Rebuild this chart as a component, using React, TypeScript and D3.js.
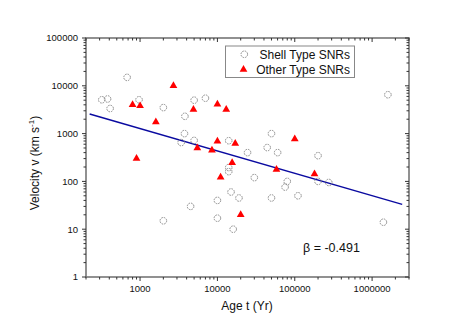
import React from "react";
import * as d3 from "d3";

const shellAge = [320, 380, 410, 680, 970, 2000, 3800, 5000, 7000, 3750, 3400, 5000, 14000, 14000, 14000, 24500, 44000, 50000, 60000, 30000, 80000, 75000, 200000, 200000, 275000, 110000, 15000, 19000, 10000, 50000, 4500, 10000, 2000, 16000, 1400000, 1600000];
const shellVel = [5100, 5300, 3350, 15000, 5100, 3500, 2300, 5000, 5500, 1000, 650, 720, 710, 195, 160, 400, 510, 1000, 400, 120, 100, 76, 345, 100, 95, 50, 60, 45, 40, 45, 30, 17, 15, 10, 14, 6500];

const otherAge = [2700, 800, 1000, 1600, 4900, 10000, 13000, 900, 5500, 10000, 17000, 8500, 100000, 15500, 11000, 58000, 180000, 20000];
const otherVel = [10000, 4000, 3800, 1750, 3200, 4100, 3200, 300, 500, 690, 620, 450, 770, 245, 122, 177, 143, 20];

const fitAge = [223, 2450000];
const fitVel = [2570, 33];

const xTickValues = [1000, 10000, 100000, 1000000];
const yTickValues = [1, 10, 100, 1000, 10000, 100000];

const W = 476;
const H = 332;
const L = 86, R = 409, T = 38, B = 277;

export default function App() {
  const x = d3.scaleLog().domain([200, 3e6]).range([L, R]);
  const y = d3.scaleLog().domain([1, 100000]).range([B, T]);

  const xMinor: number[] = [];
  for (let e = 2; e <= 6; e++) {
    for (let m = 2; m <= 9; m++) {
      const v = m * Math.pow(10, e);
      if (v >= 200 && v <= 3e6) xMinor.push(v);
    }
  }
  const yMinor: number[] = [];
  for (let e = 0; e <= 4; e++) {
    for (let m = 2; m <= 9; m++) yMinor.push(m * Math.pow(10, e));
  }

  const tri = d3.symbol().type(d3.symbolTriangle).size(26)();
  const line = d3
    .line<number>()
    .x((_, i) => x(fitAge[i]))
    .y((d) => y(d));

  const font = "Liberation Sans, Arial, sans-serif";
  const axisCol = "#767676";
  const tickCol = "#333";

  return (
    <svg width={W} height={H} style={{ position: "absolute", left: 0, top: 0, background: "#fff" }} fontFamily={font}>
      {/* frame */}
      <rect x={L} y={T} width={R - L} height={B - T} fill="none" stroke={axisCol} strokeWidth={1.6} />

      {/* x ticks bottom (out) and top (in) */}
      {xTickValues.map((v) => (
        <g key={"xt" + v}>
          <line x1={x(v)} x2={x(v)} y1={B} y2={B + 4} stroke={tickCol} strokeWidth={1} />
          <line x1={x(v)} x2={x(v)} y1={T} y2={T + 4} stroke={tickCol} strokeWidth={1} />
          <text x={x(v)} y={291.5} fontSize={9.5} textAnchor="middle" fill="#111">
            {v}
          </text>
        </g>
      ))}
      {xMinor.map((v) => (
        <g key={"xm" + v}>
          <line x1={x(v)} x2={x(v)} y1={B} y2={B + 2.5} stroke={tickCol} strokeWidth={1} />
          <line x1={x(v)} x2={x(v)} y1={T} y2={T + 2.5} stroke={tickCol} strokeWidth={1} />
        </g>
      ))}

      {/* y ticks left (out) and right (in) */}
      {yTickValues.map((v) => (
        <g key={"yt" + v}>
          <line x1={L - 4} x2={L} y1={y(v)} y2={y(v)} stroke={tickCol} strokeWidth={1} />
          <line x1={R - 4} x2={R} y1={y(v)} y2={y(v)} stroke={tickCol} strokeWidth={1} />
          <text x={78} y={y(v)} dy="0.35em" fontSize={9.5} textAnchor="end" fill="#111">
            {v}
          </text>
        </g>
      ))}
      {yMinor.map((v) => (
        <g key={"ym" + v}>
          <line x1={L - 2.5} x2={L} y1={y(v)} y2={y(v)} stroke={tickCol} strokeWidth={1} />
          <line x1={R - 2.5} x2={R} y1={y(v)} y2={y(v)} stroke={tickCol} strokeWidth={1} />
        </g>
      ))}

      {/* fit line */}
      <path d={line(fitVel) || ""} fill="none" stroke="#0a0aa0" strokeWidth={1.4} />

      {/* shell circles */}
      {shellAge.map((a, i) => (
        <circle
          key={"s" + i}
          cx={x(a)}
          cy={y(shellVel[i])}
          r={3.3}
          fill="none"
          stroke="#808080"
          strokeWidth={0.9}
          strokeDasharray="1.6,1"
        />
      ))}

      {/* other triangles */}
      {otherAge.map((a, i) => (
        <path key={"o" + i} d={tri || ""} transform={`translate(${x(a)},${y(otherVel[i])})`} fill="#ff0000" />
      ))}

      {/* legend */}
      <rect x={225.5} y={46} width={129} height={31.5} fill="#fff" stroke="#888" strokeWidth={1} />
      <circle cx={244.3} cy={54.3} r={3.3} fill="none" stroke="#808080" strokeWidth={0.9} strokeDasharray="1.6,1" />
      <path d={tri || ""} transform="translate(243.5,69.5)" fill="#ff0000" />
      <text x={350} y={58.5} fontSize={12} textAnchor="end" fill="#111">
        Shell Type SNRs
      </text>
      <text x={350} y={74} fontSize={12} textAnchor="end" fill="#111">
        Other Type SNRs
      </text>

      {/* beta */}
      <text x={303} y={252} fontSize={12.5} fill="#111">
        β = -0.491
      </text>

      {/* axis titles */}
      <text x={247} y={309.5} fontSize={12} textAnchor="middle" fill="#111">
        Age t (Yr)
      </text>
      <text transform="translate(38.5,163) rotate(-90)" fontSize={12} textAnchor="middle" fill="#111">
        Velocity v (km s<tspan dy="-4.5" fontSize={8}>-1</tspan><tspan dy="4.5">)</tspan>
      </text>
    </svg>
  );
}
